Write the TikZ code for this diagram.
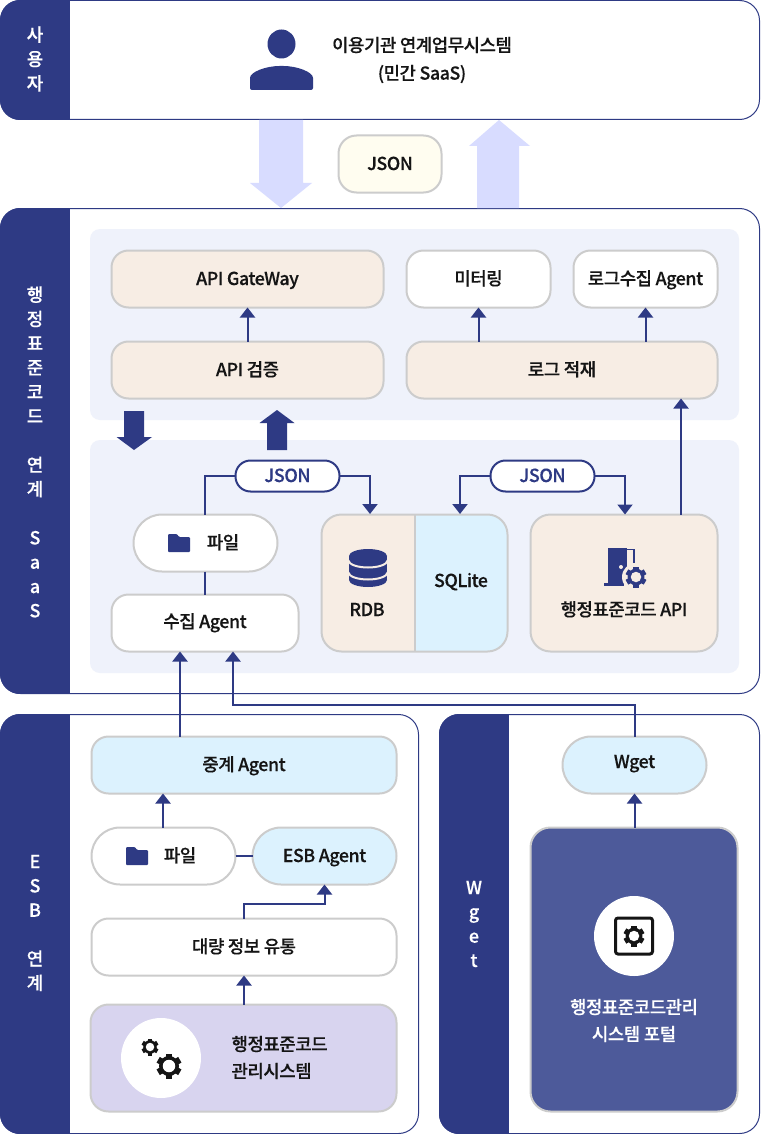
\documentclass[tikz,border=0pt]{standalone}
\usepackage{fontspec}
\setmainfont{Noto Sans CJK KR Medium}[FakeBold=0.25,LetterSpace=-2.5]
\usetikzlibrary{arrows.meta,calc}
\definecolor{navy}{HTML}{2E3A84}
\definecolor{portal}{HTML}{4D5A9A}
\definecolor{edgegray}{HTML}{CCCCCC}
\definecolor{beige}{HTML}{F7EDE4}
\definecolor{skyfill}{HTML}{DCF2FE}
\definecolor{lilac}{HTML}{D8D4EF}
\definecolor{paleband}{HTML}{EFF2FB}
\definecolor{bigarrow}{HTML}{D8DCFF}
\definecolor{cream}{HTML}{FFFDF0}
\definecolor{inkblack}{HTML}{151515}
\tikzset{
  x=1pt,y=-1pt,
  txt/.style={font=\fontsize{17.8}{25}\selectfont,text=inkblack,align=center},
  oneline/.style={text height=12pt,text depth=0pt},
  bx/.style={draw=edgegray,line width=2pt,inner sep=0pt,outer sep=0pt,rounded corners=#1,txt,oneline},
  bx/.default=17pt,
  conn/.style={draw=navy,line width=2pt,-{Triangle[width=15pt,length=10pt]}},
  plain/.style={draw=navy,line width=2pt},
  pillj/.style={draw=navy,line width=2pt,fill=white,rounded corners=15pt,inner sep=0pt,outer sep=0pt,
     minimum width=104pt,minimum height=31pt,font=\fontsize{18}{20}\selectfont,text=navy,oneline},
  sidelabel/.style={font=\fontsize{18}{24.3}\selectfont,text=white,align=center,inner sep=0pt},
}
% name x0 y0 x1 y1 style text
\newcommand\mybox[7]{%
  \pgfmathsetmacro\bw{#4-#2-1}\pgfmathsetmacro\bh{#5-#3-1}%
  \node[bx,#6,minimum width=\bw pt,minimum height=\bh pt] (#1) at ({(#2+#4)/2},{(#3+#5)/2}) {#7};}
% panel name x0 y0 x1 y1 barright
\newcommand\panel[6]{%
  \begin{scope}
    \clip[rounded corners=20pt] (#2,#3) rectangle (#4,#5);
    \fill[white] (#2,#3) rectangle (#4,#5);
    \fill[navy] (#2,#3) rectangle (#6,#5);
  \end{scope}
  \pgfmathsetmacro\bw{#4-#2-1}\pgfmathsetmacro\bh{#5-#3-1}%
  \node[draw=navy,line width=1pt,rounded corners=20pt,inner sep=0pt,minimum width=\bw pt,minimum height=\bh pt] (#1) at ({(#2+#4)/2},{(#3+#5)/2}) {};}
% gear: x y radius colour
\newcommand\mygear[4]{%
  \foreach \a in {0,60,...,300}{\fill[#4,rotate around={\a:(#1,#2)}] ({#1-#3*0.26},#2) rectangle ({#1+#3*0.26},{#2-#3});}
  \fill[#4] (#1,#2) circle ({#3*0.8});
}
\newcommand\gearhole[4]{\fill[#4] (#1,#2) circle ({#3*0.5});}
\newcommand\folder[2]{%
  \fill[navy,rounded corners=1pt] (#1,#2) -- ++(9,0) -- ++(2,3) -- ++(11,0) -- ++(0,15) -- ++(-22,0) -- cycle;}
\begin{document}
\begin{tikzpicture}
\useasboundingbox (0,0) rectangle (760,1134);
\fill[white] (0,0) rectangle (760,1134);

% --- panels
\panel{userp}{0}{0}{760}{120}{70}
\panel{saasp}{0}{208}{760}{694}{70}
\panel{esbp}{0}{714}{419}{1134}{70}
\panel{wgetp}{439}{714}{760}{1134}{509}

\node[sidelabel] (lbuser) at (35,59) {사\\용\\자};
\node[sidelabel] (lbsaas) at (35,452) {행\\정\\표\\준\\코\\드\\[24.3pt]연\\계\\[24.3pt]S\\a\\a\\S};
\node[sidelabel] (lbesb) at (35,923) {E\\S\\B\\[24.3pt]연\\계};
\node[sidelabel] (lbwget) at (474,924) {W\\g\\e\\t};

% --- user
\fill[navy] (281.5,44) ellipse (14pt and 14.5pt);
\fill[navy,rounded corners=2pt] (250,90) -- (250,80) .. controls (250,72) and (266,66) .. (281.5,66) .. controls (297,66) and (313,72) .. (313,80) -- (313,90) -- cycle;
\node[txt,font=\fontsize{17.8}{28}\selectfont] (usertxt) at (422,60) {이용기관 연계업무시스템\\(민간 SaaS)};

% --- big arrows
\fill[bigarrow] (259,120) -- (303,120) -- (303,183) -- (312,183) -- (281,208) -- (250,183) -- (259,183) -- cycle;
\fill[bigarrow] (477,208) -- (519,208) -- (519,146) -- (530,146) -- (499,120) -- (469,146) -- (477,146) -- cycle;
\mybox{jsontop}{338}{135}{442}{193}{bx=18pt,fill=cream}{JSON}

% --- inner bands
\fill[paleband,rounded corners=10pt] (90,229) rectangle (739,420);
\fill[paleband,rounded corners=10pt] (90,440) rectangle (739,673);

\mybox{gw}{111}{250}{384}{308}{fill=beige}{API GateWay}
\mybox{apival}{111}{341}{384}{399}{fill=beige}{API 검증}
\mybox{meter}{406}{250}{551}{308}{fill=white}{미터링}
\mybox{logagent}{573}{250}{718}{308}{fill=white}{로그수집 Agent}
\mybox{logstore}{406}{341}{718}{399}{fill=beige}{로그 적재}

\draw[conn] (apival.north) -- (gw.south);
\draw[conn] (meter.south |- logstore.north) -- (meter.south);
\draw[conn] (logagent.south |- logstore.north) -- (logagent.south);

% dark block arrows
\fill[navy] (124,411) -- (144,411) -- (144,437) -- (152,437) -- (134,450) -- (116.5,437) -- (124,437) -- cycle;
\fill[navy] (267,450) -- (287,450) -- (287,423) -- (294.5,423) -- (277,410) -- (259.5,423) -- (267,423) -- cycle;

% --- lower band
\mybox{file1}{133}{514}{278}{572}{bx=28.5pt,fill=white}{}
\folder{168}{534}
\node[txt,oneline] (file1t) at (223,543) {파일};
\mybox{collect}{111}{594}{299}{652}{fill=white,text height=10pt}{수집 Agent}
\draw[plain] (file1.south -| collect.north) -- (collect.north);

% DB composite
\begin{scope}
  \clip[rounded corners=20pt] (321,514) rectangle (508,652);
  \fill[skyfill] (321,514) rectangle (508,652);
  \fill[beige] (321,514) rectangle (415,652);
  \draw[edgegray,line width=2pt] (415,514) -- (415,652);
\end{scope}
\mybox{db}{321}{514}{508}{652}{bx=20pt}{}
\coordinate (rdbtop) at (370,514);
\coordinate (sqltop) at (460,514);
\node[txt,oneline] (rdbt) at (367,610) {RDB};
\node[txt,oneline] (sqlt) at (461,581) {SQLite};
% db icon
\fill[navy] (349,556) rectangle (387,580);
\fill[navy] (368,556) ellipse (19pt and 7pt);
\fill[navy] (368,580) ellipse (19pt and 7pt);
\draw[beige,line width=2pt] (348,560) .. controls (350,570) and (386,570) .. (388,560);
\draw[beige,line width=2pt] (348,572) .. controls (350,582) and (386,582) .. (388,572);

\mybox{stdapi}{530}{514}{718}{652}{bx=20pt,fill=beige}{}
\node[txt,oneline] (stdapit) at (624,610) {행정표준코드 API};
% door icon
\fill[navy] (608,548) rectangle (627,584);
\fill[navy] (604,583) rectangle (624,586);
\draw[navy,line width=1.6pt] (627,549.5) -- (634,549.5) -- (634,563);
\fill[beige] (636,577) circle (14pt);
\mygear{636}{577}{10.5}{navy}
\gearhole{636}{577}{10.5}{beige}
\fill[beige] (621,567) circle (2pt);

\node[pillj] (json1) at (287.5,476) {JSON};
\node[pillj] (json2) at (542.5,476) {JSON};
\draw[plain] (json1.west) -| (file1.north -| collect.north);
\draw[conn] (json1.east) -| (rdbtop);
\draw[conn] (json2.west) -| (sqltop);
\draw[conn] (json2.east) -| (stdapi.north -| 625,0);
\coordinate (logx) at (681,0);
\draw[conn] (logx |- stdapi.north) -- (logx |- logstore.south);

% --- ESB
\mybox{relay}{91}{736}{397}{794}{fill=skyfill}{중계 Agent}
\mybox{file2}{91}{827}{236}{885}{bx=28.5pt,fill=white}{}
\folder{126}{847}
\node[txt,oneline] (file2t) at (180,856) {파일};
\mybox{esbag}{252}{827}{397}{885}{bx=28.5pt,fill=skyfill}{ESB Agent}
\mybox{bulk}{91}{918}{397}{976}{fill=white}{대량 정보 유통}
\mybox{mgmt}{90}{1004}{397}{1112}{bx=18pt,fill=lilac}{}
\node[fill=white,circle,minimum size=80pt,inner sep=0pt] (mgmtc) at (161,1058) {};
\mygear{150}{1047}{8.5}{inkblack}\gearhole{150}{1047}{8.5}{white}
\mygear{169}{1066}{12.5}{inkblack}\gearhole{169}{1066}{12.5}{white}
\node[txt,align=left,anchor=west,font=\fontsize{17.8}{27}\selectfont] (mgmtt) at (228,1057.5) {행정표준코드\\관리시스템};

\coordinate (fx) at (163,0);
\coordinate (mx) at (180,0);
\coordinate (cx) at (233,0);
\draw[conn] (fx |- file2.north) -- (fx |- relay.south);
\draw[plain] (file2.east) -- (esbag.west);
\draw[conn] (bulk.north) -- ++(0,-15) -| (esbag.south);
\draw[conn] (mgmt.north -| bulk.north) -- (bulk.south);
\draw[conn] (mx |- relay.north) -- (mx |- collect.south);

% --- Wget
\mybox{wget}{562}{736}{707}{794}{bx=28.5pt,fill=skyfill,text height=6pt}{Wget}
\mybox{portalbox}{530}{827}{738}{1112}{bx=20pt,fill=portal}{}
\node[fill=white,circle,minimum size=80pt,inner sep=0pt] (portalc) at (634,936) {};
\draw[inkblack,line width=3pt,rounded corners=2.5pt] (615.5,918) rectangle (652.5,954);
\mygear{634}{936}{10.5}{inkblack}\gearhole{634}{936}{10.5}{white}
\node[txt,text=white,font=\fontsize{17.8}{27}\selectfont] (portalt) at (634,1020.5) {행정표준코드관리\\시스템 포털};
\draw[conn] (wget.south |- portalbox.north) -- (wget.south);
\draw[conn] (wget.north) -- ++(0,-32) -| (cx |- collect.south);
\end{tikzpicture}
\end{document}
